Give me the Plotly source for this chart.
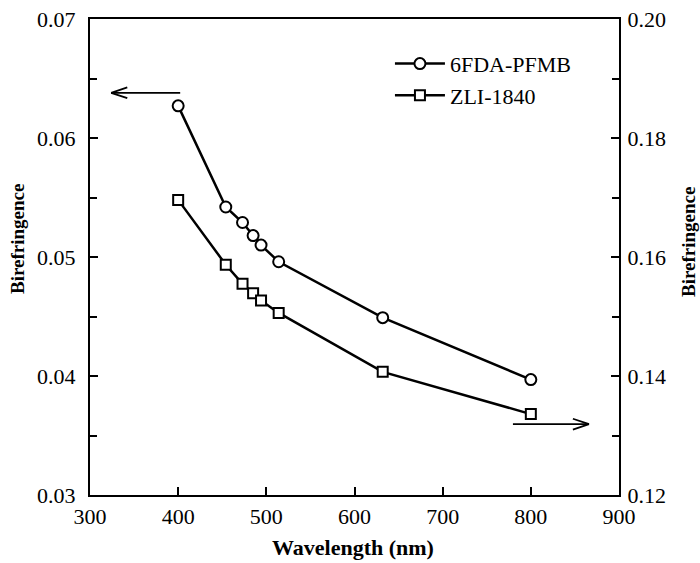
import plotly.graph_objects as go

wl_pfmb = [400, 454, 473, 485, 494, 514, 632, 800]
bi_pfmb = [0.0627, 0.0542, 0.0529, 0.0518, 0.0510, 0.0496, 0.0449, 0.0397]

wl_zli = [400, 454, 473, 485, 494, 514, 632, 800]
bi_zli = [0.1696, 0.1587, 0.1555, 0.1539, 0.1527, 0.1506, 0.1407, 0.1336]

x_ticks = [300, 400, 500, 600, 700, 800, 900]
y1_ticks = [0.03, 0.04, 0.05, 0.06, 0.07]
y2_ticks = [0.12, 0.14, 0.16, 0.18, 0.20]

FONT = "Liberation Serif, Times New Roman, serif"

fig = go.Figure()
fig.add_trace(go.Scatter(
    x=wl_pfmb, y=bi_pfmb, name="6FDA-PFMB", mode="lines+markers",
    line=dict(color="black", width=2.5),
    marker=dict(symbol="circle", size=11, color="white", line=dict(color="black", width=2)),
    yaxis="y"))
fig.add_trace(go.Scatter(
    x=wl_zli, y=bi_zli, name="ZLI-1840", mode="lines+markers",
    line=dict(color="black", width=2.5),
    marker=dict(symbol="square", size=10, color="white", line=dict(color="black", width=2)),
    yaxis="y2"))

def arrow(x0, x1, y, yref, dy, dx):
    # shaft
    fig.add_annotation(x=x1, y=y, ax=x0, ay=y, xref="x", yref=yref, axref="x", ayref=yref,
                       showarrow=True, arrowhead=0, arrowwidth=1.8, arrowcolor="black", text="")
    # barbs
    for s in (1, -1):
        fig.add_annotation(x=x1, y=y, ax=x1 + dx, ay=y + s * dy, xref="x", yref=yref,
                           axref="x", ayref=yref, showarrow=True, arrowhead=0,
                           arrowwidth=1.8, arrowcolor="black", text="")

arrow(404, 324, 0.0638, "y", 0.0005, 20)
arrow(778, 866, 0.1319, "y2", 0.001, -20)

# axis titles
fig.add_annotation(text="<b>Birefringence</b>", xref="paper", yref="paper", x=-0.136, y=0.538,
                   textangle=-90, showarrow=False, font=dict(size=19, family=FONT),
                   xanchor="center", yanchor="middle")
fig.add_annotation(text="<b>Birefringence</b>", xref="paper", yref="paper", x=1.130, y=0.531,
                   textangle=-90, showarrow=False, font=dict(size=19, family=FONT),
                   xanchor="center", yanchor="middle")
fig.add_annotation(text="<b>Wavelength (nm)</b>", xref="paper", yref="paper", x=0.497, y=-0.111,
                   showarrow=False, font=dict(size=22, family=FONT),
                   xanchor="center", yanchor="middle")

axis_common = dict(ticks="inside", ticklen=8, tickwidth=2, tickcolor="black",
                   showline=True, linewidth=2.2, linecolor="black", automargin=False,
                   ticklabeloverflow="allow",
                   showgrid=False, zeroline=False, tickfont=dict(size=22, family=FONT))

fig.update_layout(
    width=700, height=563,
    margin=dict(l=90, r=81, t=19, b=68, autoexpand=False),
    paper_bgcolor="white", plot_bgcolor="white",
    font=dict(family=FONT, size=22, color="black"),
    showlegend=True,
    legend=dict(x=0.567, y=0.95, xanchor="left", yanchor="top",
                bgcolor="rgba(0,0,0,0)", font=dict(size=22, family=FONT),
                itemwidth=50, tracegroupgap=0),
    xaxis=dict(range=[300, 900], tickvals=x_ticks, mirror=True, **axis_common),
    yaxis=dict(range=[0.03, 0.07], tickvals=y1_ticks, tickformat=".2f", ticklabelstandoff=8,
               minor=dict(tickvals=[0.035, 0.045, 0.055, 0.065], ticks="inside", ticklen=7,
                          tickwidth=2, tickcolor="black"),
               **axis_common),
    yaxis2=dict(range=[0.12, 0.20], tickvals=y2_ticks, tickformat=".2f", ticklabelstandoff=2,
                overlaying="y", side="right",
                minor=dict(tickvals=[0.13, 0.15, 0.17, 0.19], ticks="inside", ticklen=7,
                           tickwidth=2, tickcolor="black"),
                **axis_common),
)

fig.write_html("out.html", config={"displayModeBar": False},
               post_script="document.body.style.margin='0';document.body.style.overflow='hidden';")
